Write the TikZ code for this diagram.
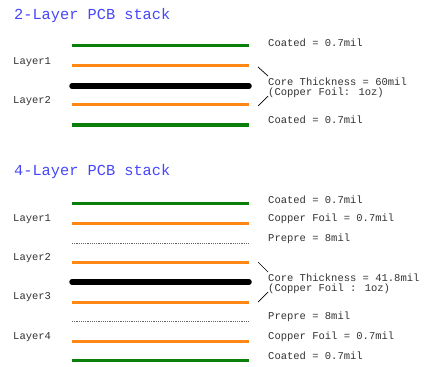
\documentclass[tikz,border=0pt]{standalone}
\usepackage{fontspec}
\setmainfont{Liberation Mono}
\begin{document}
\begin{tikzpicture}[x=1pt,y=-1pt,
  title/.style={anchor=west,inner sep=0pt,font=\fontsize{15.3}{16}\selectfont,text=titleblue},
  lbl/.style={anchor=west,inner sep=0pt,font=\fontsize{10.5}{11}\selectfont,text=txtgray},
  coat/.style={draw=coatgreen,line width=3pt},
  foil/.style={draw=foilorange,line width=3pt},
  core/.style={draw=black,line width=5.5pt,line cap=round},
  prep/.style={draw=gray!80!black,line width=0.7pt,dash pattern=on 1.2pt off 1pt},
  tick/.style={draw=black,line width=0.7pt}]
\definecolor{titleblue}{RGB}{70,70,250}
\definecolor{coatgreen}{RGB}{10,128,10}
\definecolor{foilorange}{RGB}{255,136,20}
\definecolor{txtgray}{RGB}{50,50,50}
\useasboundingbox (0,0) rectangle (435,366);
% ---------- 2-layer ----------
\node[title] (t2) at (14,16) {2-Layer PCB stack};
\draw[coat] (72,46) -- (249,46);
\draw[foil] (72,66) -- (249,66);
\draw[core] (72,86) -- (249,86);
\draw[foil] (72,105) -- (249,105);
\draw[coat] (72,125) -- (249,125);
\node[lbl] (l21) at (13,62) {Layer1};
\node[lbl] (l22) at (13,101) {Layer2};
\node[lbl] (c2a) at (268,43) {Coated = 0.7mil};
\node[lbl] (c2b) at (268,82) {Core Thickness = 60mil};
\node[lbl] (c2c) at (268,93) {(Copper Foil: 1oz)};
\node[lbl] (c2d) at (268,120) {Coated = 0.7mil};
\coordinate (a2s) at (258,67); \coordinate (a2e) at (268,76);
\coordinate (b2s) at (258,106); \coordinate (b2e) at (268,96);
\draw[tick] (a2s) -- (a2e);
\draw[tick] (b2s) -- (b2e);
% ---------- 4-layer ----------
\node[title] (t4) at (14,172) {4-Layer PCB stack};
\draw[coat] (72,203) -- (249,203);
\draw[foil] (72,223) -- (249,223);
\draw[prep] (72,243) -- (249,243);
\draw[foil] (72,262) -- (249,262);
\draw[core] (72,282) -- (249,282);
\draw[foil] (72,302) -- (249,302);
\draw[prep] (72,321) -- (249,321);
\draw[foil] (72,341) -- (249,341);
\draw[coat] (72,360) -- (249,360);
\node[lbl] (l41) at (13,219) {Layer1};
\node[lbl] (l42) at (13,258) {Layer2};
\node[lbl] (l43) at (13,297) {Layer3};
\node[lbl] (l44) at (13,337) {Layer4};
\node[lbl] (c4a) at (268,200) {Coated = 0.7mil};
\node[lbl] (c4b) at (268,219) {Copper Foil = 0.7mil};
\node[lbl] (c4c) at (268,239) {Prepre = 8mil};
\node[lbl] (c4d) at (268,278) {Core Thickness  = 41.8mil};
\node[lbl] (c4e) at (268,289) {(Copper Foil : 1oz)};
\node[lbl] (c4f) at (268,317) {Prepre = 8mil};
\node[lbl] (c4g) at (268,337) {Copper Foil = 0.7mil};
\node[lbl] (c4h) at (268,356) {Coated = 0.7mil};
\coordinate (a4s) at (258,262); \coordinate (a4e) at (268,272);
\coordinate (b4s) at (258,302); \coordinate (b4e) at (268,292);
\draw[tick] (a4s) -- (a4e);
\draw[tick] (b4s) -- (b4e);
\end{tikzpicture}
\end{document}
